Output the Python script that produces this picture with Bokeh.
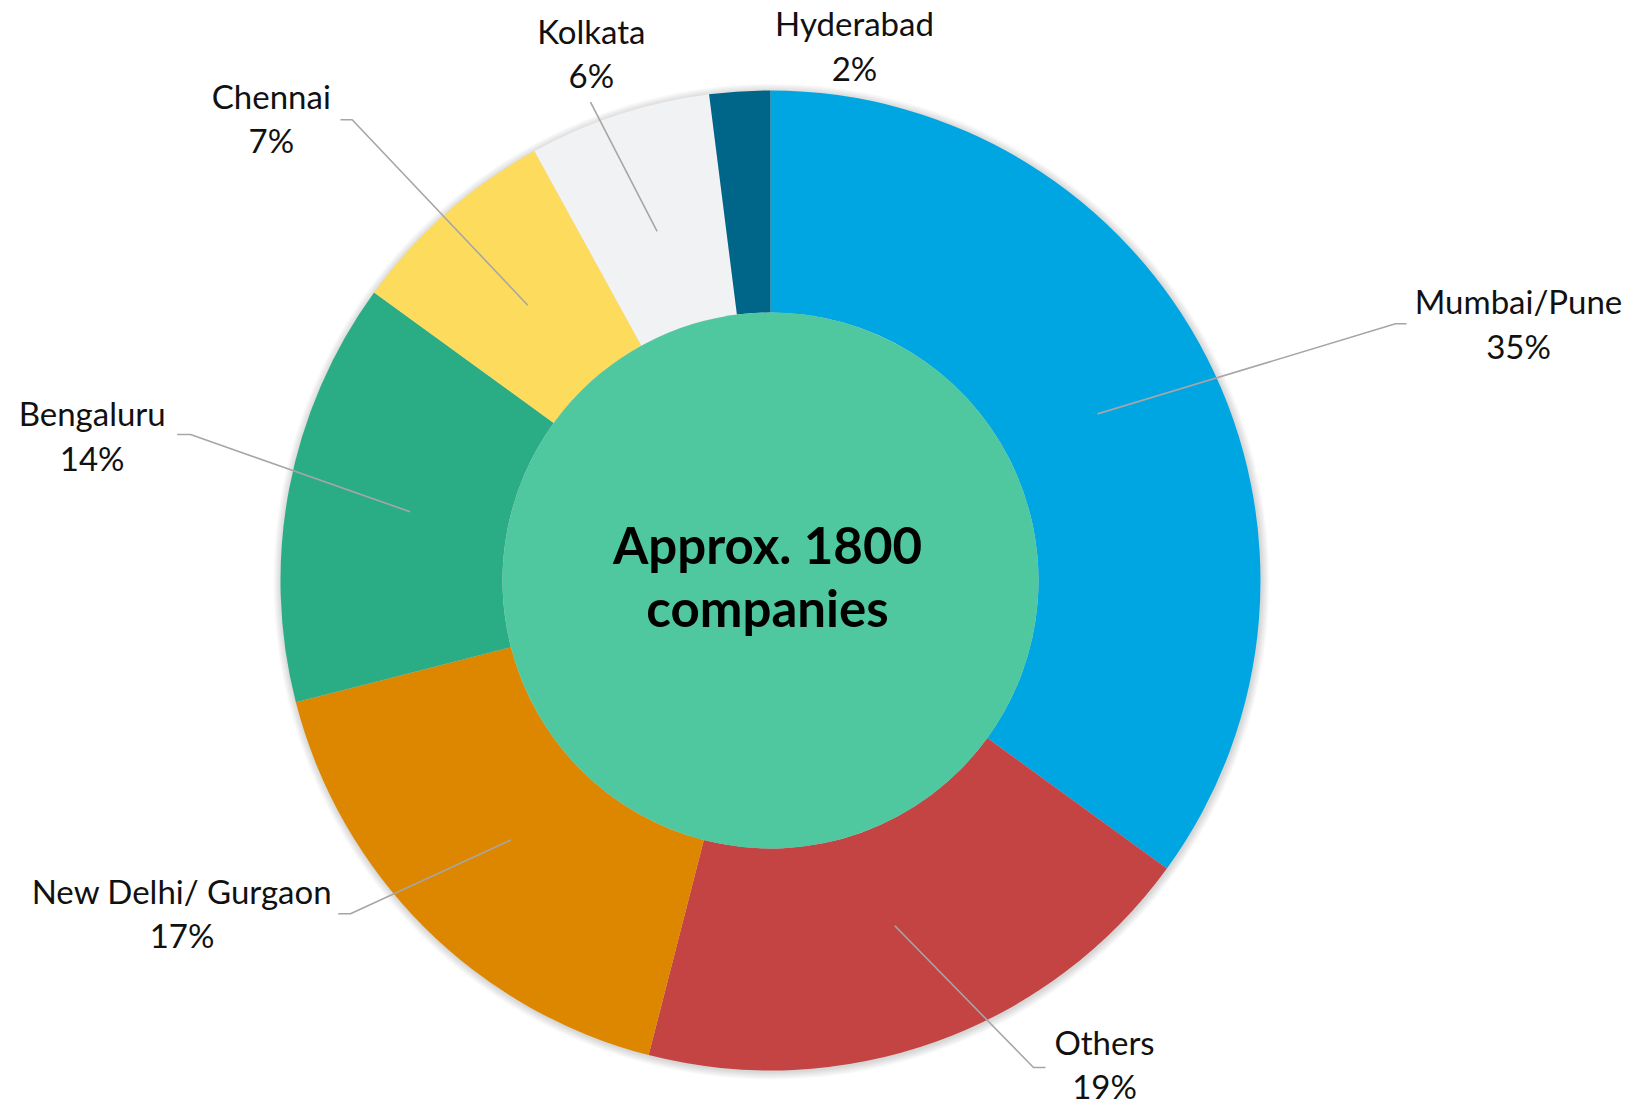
import math
from bokeh.plotting import figure
from bokeh.models import Range1d, ColumnDataSource
from bokeh.core.properties import value
from bokeh.embed import file_html
from bokeh.resources import INLINE

# ---- data ----
cities = ["Mumbai/Pune", "Others", "New Delhi/ Gurgaon", "Bengaluru", "Chennai", "Kolkata", "Hyderabad"]
shares = [35, 19, 17, 14, 7, 6, 2]
colors = ["#00A6E2", "#C44343", "#DD8600", "#2AAD85", "#FDDB5C", "#F1F2F3", "#006689"]
center_lines = ["Approx. 1800", "companies"]

# ---- layout (screen pixel positions of label blocks / leader elbows) ----
CX, CY = 770, 580          # pie centre on the page
R_OUT, R_IN, R_LEAD = 490, 268, 367
label_pos = {               # centre of 2-line label block (screen px)
    "Mumbai/Pune": (1518, 323.5),
    "Others": (1104, 1064),
    "New Delhi/ Gurgaon": (181.5, 913),
    "Bengaluru": (91.7, 435.5),
    "Chennai": (270.8, 118),
    "Kolkata": (590.8, 53),
    "Hyderabad": (854, 45.5),
}
leader_pts = {              # extra leader points after slice start (screen px)
    "Mumbai/Pune": [(1395, 323.3), (1406, 323.3)],
    "Others": [(1033, 1067), (1045, 1067)],
    "New Delhi/ Gurgaon": [(350, 913.3), (337.7, 913.3)],
    "Bengaluru": [(190, 434), (176.7, 434)],
    "Chennai": [(351.7, 119.3), (340, 119.3)],
    "Kolkata": [(590, 101.7)],
    "Hyderabad": [],
}

W, H = 1636, 1108
LFS, CFS = 33, 51
def dx(sx): return sx - CX
def dy(sy): return CY - sy

p = figure(width=W, height=H, output_backend="svg", toolbar_location=None,
           x_range=Range1d(-CX, W - CX), y_range=Range1d(CY - H, CY),
           min_border=0, outline_line_color=None, background_fill_color="white",
           border_fill_color="white")
p.axis.visible = False
p.grid.visible = False

# soft shadow
for i in range(1, 9):
    p.circle(x=[0.8], y=[-1.2], radius=R_OUT + i, fill_color="#000000",
             fill_alpha=0.018, line_color=None)

total = float(sum(shares))
starts, ends, mids = [], [], []
cum = 0.0
for s in shares:
    a0 = cum / total
    cum += s
    a1 = cum / total
    starts.append(math.pi / 2 - a0 * 2 * math.pi)
    ends.append(math.pi / 2 - a1 * 2 * math.pi)
    mids.append(math.pi / 2 - (a0 + a1) / 2 * 2 * math.pi)

src = ColumnDataSource(dict(start=starts, end=ends, color=colors, city=cities))
p.annular_wedge(x=0, y=0, inner_radius=R_IN, outer_radius=R_OUT,
                start_angle="start", end_angle="end", direction="clock",
                fill_color="color", line_color=None, source=src)

# centre disc
p.circle(x=[0], y=[0], radius=R_IN, fill_color="#4FC79F", line_color=None)

# leader lines
for city, m in zip(cities, mids):
    pts = leader_pts[city]
    if not pts:
        continue
    xs = [R_LEAD * math.cos(m)] + [dx(a) for a, b in pts]
    ys = [R_LEAD * math.sin(m)] + [dy(b) for a, b in pts]
    p.line(xs, ys, line_color="#A6A6A6", line_width=1.6)

# labels
sh = 0.38 * LFS
names_x, names_y, pct_x, pct_y, pct_t = [], [], [], [], []
for city, s in zip(cities, shares):
    lx, ly = label_pos[city]
    names_x.append(dx(lx)); names_y.append(dy(ly - 10 - sh))
    pct_x.append(dx(lx)); pct_y.append(dy(ly + 34.5 - sh))
    pct_t.append(f"{s}%")
p.text(x=names_x, y=names_y, text=cities, text_font=value("Lato"),
       text_font_size=f"{LFS}px", text_align="center", text_baseline="alphabetic",
       text_color="#111111")
p.text(x=pct_x, y=pct_y, text=pct_t, text_font=value("Lato"),
       text_font_size=f"{LFS}px", text_align="center", text_baseline="alphabetic",
       text_color="#111111")

# centre text
csh = 0.38 * CFS
p.text(x=[dx(767), dx(767)], y=[dy(563 - csh), dy(626.7 - csh)], text=center_lines,
       text_font=value("Lato"), text_font_style="bold", text_font_size=f"{CFS}px",
       text_align="center", text_baseline="alphabetic", text_color="#000000")

open("out.html", "w").write(file_html(p, INLINE))
